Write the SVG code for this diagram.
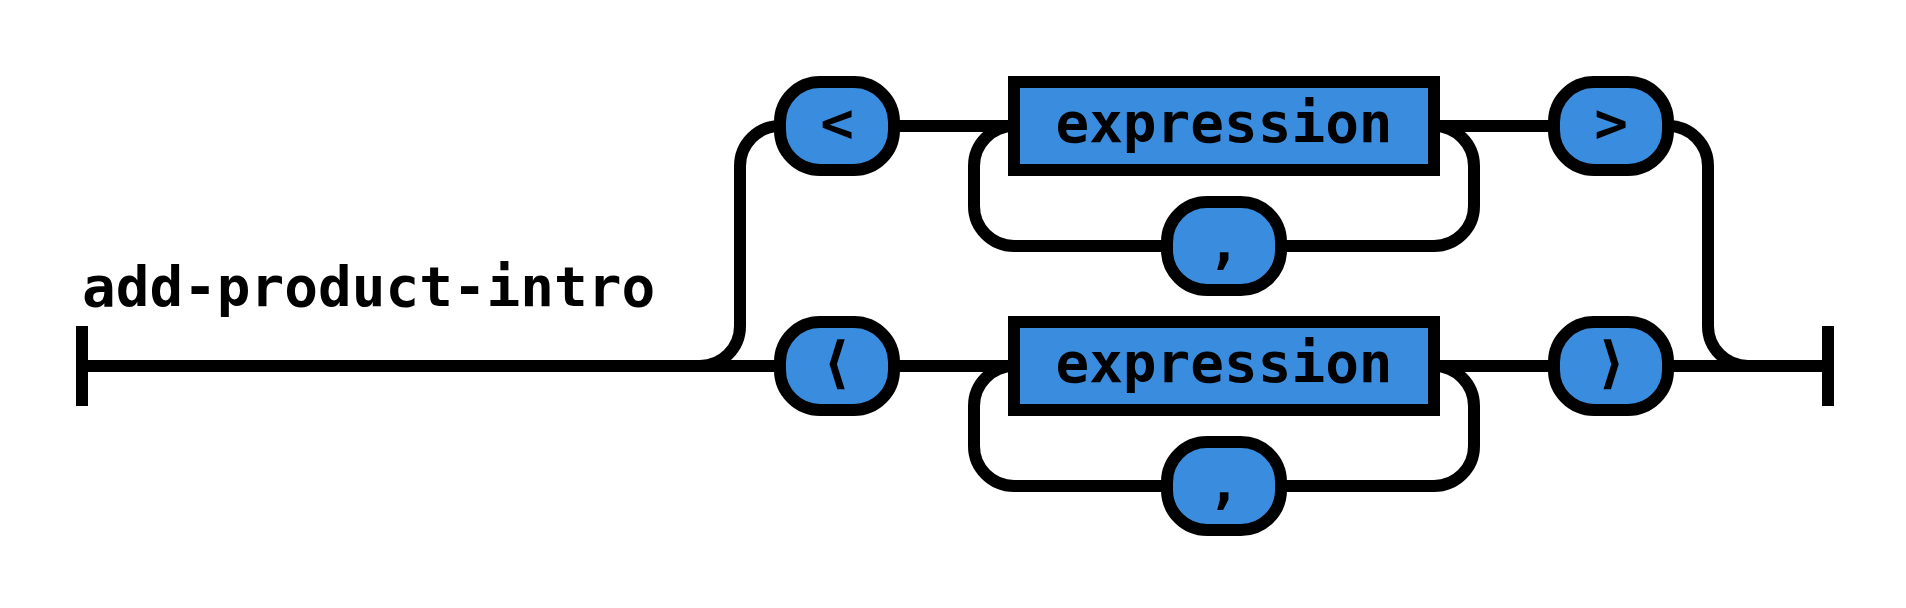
<svg xmlns="http://www.w3.org/2000/svg" width="1906" height="608" viewBox="0 0 1906 608">
<style>
.c{fill:none;stroke:#000;stroke-width:12}
.n rect{fill:#3a8dde;stroke:#000;stroke-width:12}
text{font-family:"DejaVu Sans Mono","Liberation Mono",monospace;font-weight:bold;font-size:56px;fill:#000;text-anchor:middle}
.lbl{text-anchor:start}
</style>
<rect width="1906" height="608" fill="#fff"/>
<g id="connectors" class="c">
<path d="M82 326v80m0-40H780"/>
<path d="M700 366A40 40 0 0 0 740 326V166A40 40 0 0 1 780 126"/>
<path d="M894 126H1014"/>
<path d="M1014 126A40 40 0 0 0 974 166V206A40 40 0 0 0 1014 246H1167"/>
<path d="M1281 246H1434A40 40 0 0 0 1474 206V166A40 40 0 0 0 1434 126"/>
<path d="M1434 126H1554"/>
<path d="M1668 126A40 40 0 0 1 1708 166V326A40 40 0 0 0 1748 366"/>
<path d="M894 366H1014"/>
<path d="M1014 366A40 40 0 0 0 974 406V446A40 40 0 0 0 1014 486H1167"/>
<path d="M1281 486H1434A40 40 0 0 0 1474 446V406A40 40 0 0 0 1434 366"/>
<path d="M1434 366H1554"/>
<path d="M1668 366H1828m0-40v80"/>
</g>
<text id="label" class="lbl" x="82" y="306">add-product-intro</text>
<g id="t-lt" class="n"><rect x="780" y="82" width="114" height="88" rx="40" ry="40"/><text x="837" y="142">&lt;</text></g>
<g id="nt-expr1" class="n"><rect x="1014" y="82" width="420" height="88"/><text x="1224" y="142">expression</text></g>
<g id="t-comma1" class="n"><rect x="1167" y="202" width="114" height="88" rx="40" ry="40"/><text x="1224" y="262">,</text></g>
<g id="t-gt" class="n"><rect x="1554" y="82" width="114" height="88" rx="40" ry="40"/><text x="1611" y="142">&gt;</text></g>
<g id="t-langle" class="n"><rect x="780" y="322" width="114" height="88" rx="40" ry="40"/><text x="837" y="382">⟨</text></g>
<g id="nt-expr2" class="n"><rect x="1014" y="322" width="420" height="88"/><text x="1224" y="382">expression</text></g>
<g id="t-comma2" class="n"><rect x="1167" y="442" width="114" height="88" rx="40" ry="40"/><text x="1224" y="502">,</text></g>
<g id="t-rangle" class="n"><rect x="1554" y="322" width="114" height="88" rx="40" ry="40"/><text x="1611" y="382">⟩</text></g>
</svg>
